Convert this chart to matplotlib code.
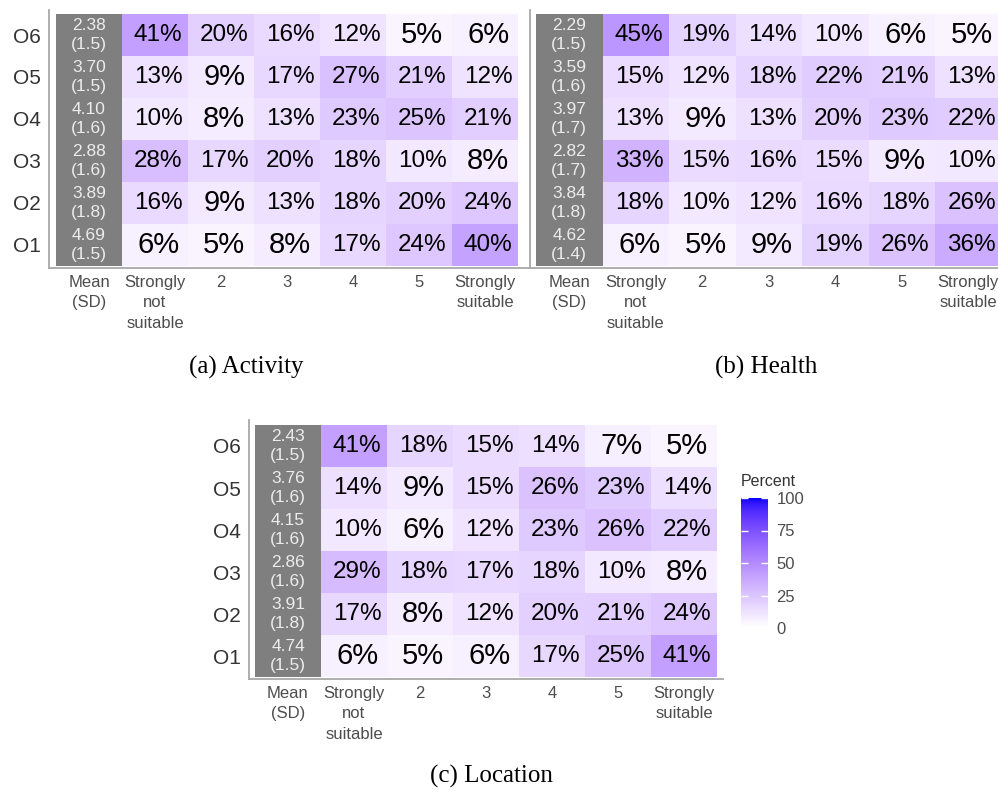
import numpy as np
import matplotlib
matplotlib.use("Agg")
import matplotlib.pyplot as plt
from matplotlib.colors import ListedColormap, Normalize
from matplotlib.cm import ScalarMappable

plt.rcParams['font.family'] = ['Liberation Sans', 'DejaVu Sans']

# Rows from top to bottom
options = ["O6", "O5", "O4", "O3", "O2", "O1"]
levels = ["Mean\n(SD)", "Strongly\nnot\nsuitable", "2", "3", "4", "5", "Strongly\nsuitable"]

act_mean = [2.38, 3.70, 4.10, 2.88, 3.89, 4.69]
act_sd = [1.5, 1.5, 1.6, 1.6, 1.8, 1.5]
act_pct = [[41, 20, 16, 12, 5, 6],
           [13, 9, 17, 27, 21, 12],
           [10, 8, 13, 23, 25, 21],
           [28, 17, 20, 18, 10, 8],
           [16, 9, 13, 18, 20, 24],
           [6, 5, 8, 17, 24, 40]]

hea_mean = [2.29, 3.59, 3.97, 2.82, 3.84, 4.62]
hea_sd = [1.5, 1.6, 1.7, 1.7, 1.8, 1.4]
hea_pct = [[45, 19, 14, 10, 6, 5],
           [15, 12, 18, 22, 21, 13],
           [13, 9, 13, 20, 23, 22],
           [33, 15, 16, 15, 9, 10],
           [18, 10, 12, 16, 18, 26],
           [6, 5, 9, 19, 26, 36]]

loc_mean = [2.43, 3.76, 4.15, 2.86, 3.91, 4.74]
loc_sd = [1.5, 1.6, 1.6, 1.6, 1.8, 1.5]
loc_pct = [[41, 18, 15, 14, 7, 5],
           [14, 9, 15, 26, 23, 14],
           [10, 6, 12, 23, 26, 22],
           [29, 18, 17, 18, 10, 8],
           [17, 8, 12, 20, 21, 24],
           [6, 5, 6, 17, 25, 41]]

legend_ticks = [0, 25, 50, 75, 100]


def lab_to_rgb(L, a, b):
    fy = (L + 16) / 116
    fx = fy + a / 500
    fz = fy - b / 200
    def finv(t):
        return np.where(t > 6 / 29, t ** 3, 3 * (6 / 29) ** 2 * (t - 4 / 29))
    X = 0.95047 * finv(fx)
    Y = finv(fy)
    Z = 1.08883 * finv(fz)
    M = np.array([[3.2406, -1.5372, -0.4986],
                  [-0.9689, 1.8758, 0.0415],
                  [0.0557, -0.2040, 1.0570]])
    lin = M @ np.vstack([X, Y, Z])
    lin = np.clip(lin, 0, 1)
    rgb = np.where(lin <= 0.0031308, 12.92 * lin, 1.055 * lin ** (1 / 2.4) - 0.055)
    return np.clip(rgb.T, 0, 1)


# white -> blue gradient interpolated in Lab space
t = np.linspace(0, 1, 256)
white = np.array([100.0, 0.0, 0.0])
blue = np.array([32.30, 79.19, -107.86])
lab = white[None, :] + t[:, None] * (blue - white)[None, :]
cmap = ListedColormap(lab_to_rgb(lab[:, 0], lab[:, 1], lab[:, 2]))
norm = Normalize(0, 100)

W, H = 998, 792
fig = plt.figure(figsize=(W / 100, H / 100), dpi=100)


def px_axes(x0, y0, x1, y1):
    return fig.add_axes([x0 / W, 1 - y1 / H, (x1 - x0) / W, (y1 - y0) / H])


def heat_panel(box, cell_x0, cell_w, cell_y0, cell_h, means, sds, pct, ylabels=True):
    x0, y0, x1, y1 = box
    ax = px_axes(x0, y0, x1, y1)
    pct = np.array(pct)[::-1]
    means = means[::-1]
    sds = sds[::-1]
    nrow = len(pct)
    ax.pcolormesh(np.arange(1, 8), np.arange(0, nrow + 1), pct, cmap=cmap, norm=norm)
    ax.fill_between([0, 1], 0, nrow, color='#7f7f7f', lw=0)
    for r in range(nrow):
        ax.text(0.5, r + 0.5, f"{means[r]:.2f}\n({sds[r]:.1f})", ha='center', va='center',
                color='#ececec', fontsize=12.5, linespacing=1.3)
        for c in range(6):
            v = pct[r, c]
            ax.text(c + 1.55, r + 0.5, f"{v}%", ha='center', va='center', color='black',
                    fontsize=21 if v < 10 else 17.5)
    ax.set_xlim(-(cell_x0 - x0) / cell_w, (x1 - cell_x0) / cell_w)
    ax.set_ylim(-(y1 - (cell_y0 + nrow * cell_h)) / cell_h, (cell_y0 + nrow * cell_h - y0) / cell_h)
    ax.set_xticks(np.arange(7) + 0.5)
    ax.set_xticklabels(levels, fontsize=12, color='#4d4d4d', linespacing=1.45, va='top')
    ax.set_yticks(np.arange(nrow) + 0.5)
    if ylabels:
        ax.set_yticklabels(options[::-1], fontsize=15, color='#333333')
    else:
        ax.set_yticklabels([])
    ax.tick_params(length=0)
    ax.tick_params(axis='x', pad=5)
    ax.tick_params(axis='y', pad=6)
    for s in ['top', 'right']:
        ax.spines[s].set_visible(False)
    for s in ['left', 'bottom']:
        ax.spines[s].set_color('#a8a8a8')
        ax.spines[s].set_linewidth(1.3)
    return ax


heat_panel((49, 10, 529, 268), 56, 66, 14, 42, act_mean, act_sd, act_pct)
heat_panel((530, 10, 998, 268), 536, 66.5, 14, 42, hea_mean, hea_sd, hea_pct, ylabels=False)
heat_panel((249, 420, 723, 679), 255, 66, 425, 42, loc_mean, loc_sd, loc_pct)

# colour legend
cax = px_axes(741, 498, 768, 628)
cb = fig.colorbar(ScalarMappable(norm=norm, cmap=cmap), cax=cax, ticks=legend_ticks)
cb.outline.set_visible(False)
cax.tick_params(axis='y', direction='in', length=5, width=1, color='white',
                left=True, right=True, labelsize=12, labelcolor='#4d4d4d', pad=6)
fig.text(741 / W, 1 - 481 / H, "Percent", fontsize=11.5, color='#333333', ha='left', va='center')

# sub-figure captions
cap = dict(fontsize=18, family='Liberation Serif', ha='center', va='center', color='black')
fig.text(246 / W, 1 - 367 / H, "(a) Activity", **cap)
fig.text(766 / W, 1 - 367 / H, "(b) Health", **cap)
fig.text(491 / W, 1 - 776 / H, "(c) Location", **cap)

fig.savefig("out.png", dpi=100)
